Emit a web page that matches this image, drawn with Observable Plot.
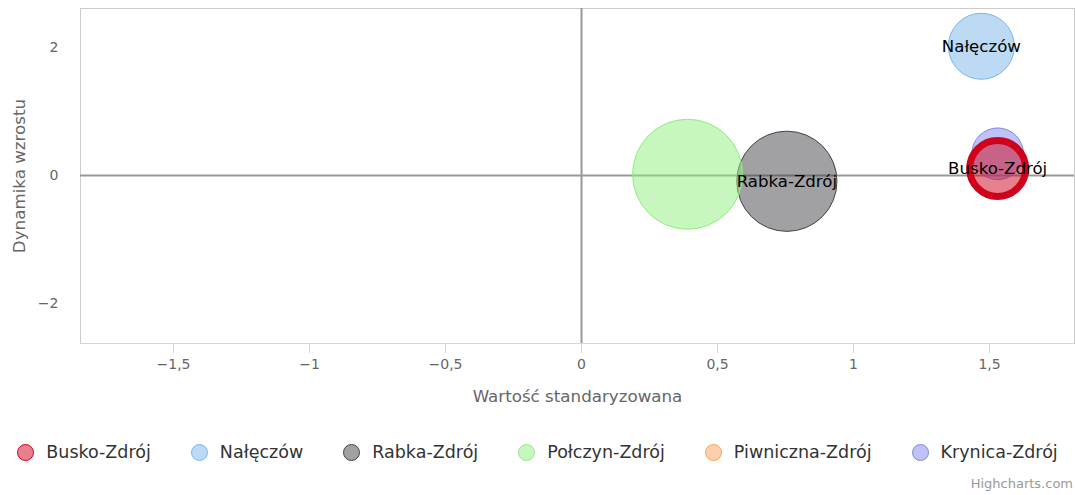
<!DOCTYPE html>
<html><head><meta charset="utf-8">
<script src="https://cdn.jsdelivr.net/npm/d3@7"></script>
<script src="https://cdn.jsdelivr.net/npm/@observablehq/plot@0.6"></script>
<style>
body{margin:0;background:#fff;font-family:"DejaVu Sans",sans-serif;}
#wrap{position:relative;width:1075px;height:495px;overflow:hidden;background:#fff;}
#chart svg{display:block;}
#legend{position:absolute;top:440px;left:0;width:1075px;display:flex;justify-content:center;gap:40px;font-size:17.5px;color:#333;line-height:24px;}
.item{display:flex;align-items:center;white-space:nowrap;}
.sw{width:17px;height:17px;border-radius:50%;box-sizing:border-box;border:1.5px solid;margin-right:12px;}
#credit{position:absolute;right:2px;top:476px;font-size:13px;color:#999;white-space:nowrap;}
</style></head><body>
<div id="wrap"><div id="chart"></div><div id="legend"></div><div id="credit">Highcharts.com</div></div>
<script>
// ---- data ----
const names   = ["Busko-Zdrój","Nałęczów","Rabka-Zdrój","Połczyn-Zdrój","Piwniczna-Zdrój","Krynica-Zdrój"];
const colors  = ["#d0021b","#7cb5ec","#434348","#90ed7d","#f7a35c","#8085e9"];
const xValues = [1.53, 1.47, 0.755, 0.39, null, 1.53];   // Wartość standaryzowana
const yValues = [0.11, 2.02, -0.09, 0.02, null, 0.34];   // Dynamika wzrostu
const zValues = [26, 36, 83, 100, null, 22];             // bubble size
const labelled = ["Busko-Zdrój","Nałęczów","Rabka-Zdrój"];
const highlighted = "Busko-Zdrój";
const xTicks = [-1.5,-1,-0.5,0,0.5,1,1.5];
const yTicks = [-2,0,2];
const xDomain = [-1.842, 1.8125];
const yDomain = [-2.625, 2.61];
const xTitle = "Wartość standaryzowana";
const yTitle = "Dynamika wzrostu";

const rows = names.map((n,i)=>({name:n, x:xValues[i], y:yValues[i], z:zValues[i]}))
  .filter(d=>d.x!=null);
const normal = rows.filter(d=>d.name!==highlighted);
const hi = rows.filter(d=>d.name===highlighted);
const fmt = d => String(d).replace("-", "\u2212").replace(".", ",");

const chart = Plot.plot({
  width:1075, height:420,
  marginLeft:80, marginRight:1, marginTop:8, marginBottom:77,
  style:{fontFamily:"DejaVu Sans, sans-serif", background:"transparent"},
  x:{domain:xDomain},
  y:{domain:yDomain},
  r:{type:"sqrt", domain:[0,100], range:[0,55]},
  color:{domain:names, range:colors},
  marks:[
    Plot.frame({stroke:"#cccccc"}),
    Plot.ruleY([yDomain[0]], {stroke:"#ccd6eb", strokeWidth:1}),
    Plot.ruleX([0], {stroke:"#999", strokeWidth:2}),
    Plot.ruleY([0], {stroke:"#999", strokeWidth:2}),
    Plot.axisX({ticks:xTicks, tickFormat:fmt, tickSize:10, tickPadding:6, stroke:"#ccd6eb", fill:"#666", fontSize:14, label:null}),
    Plot.axisY({ticks:yTicks, tickFormat:fmt, tickSize:0, tickPadding:22, fill:"#666", fontSize:14, label:null}),
    Plot.text([xTitle], {frameAnchor:"bottom", dy:58, fill:"#666", fontSize:16.7}),
    Plot.text([yTitle], {frameAnchor:"left", dx:-61, rotate:-90, textAnchor:"middle", fill:"#666", fontSize:16.7}),
    Plot.dot(normal, {x:"x", y:"y", r:"z", fill:"name", fillOpacity:0.5, stroke:"name", strokeWidth:1, sort:null}),
    Plot.dot(hi, {x:"x", y:"y", r:"z", fill:"name", fillOpacity:0.5, stroke:"name", strokeWidth:7, sort:null}),
    Plot.text(rows.filter(d=>labelled.includes(d.name)), {x:"x", y:"y", text:"name", fill:"#000", fontSize:16.6})
  ]
});
document.getElementById("chart").append(chart);

const leg = document.getElementById("legend");
names.forEach((n,i)=>{
  const it = document.createElement("div"); it.className="item";
  const sw = document.createElement("span"); sw.className="sw";
  const c = d3.color(colors[i]); sw.style.borderColor = colors[i];
  c.opacity = 0.5; sw.style.background = c.formatRgb();
  const t = document.createElement("span"); t.textContent = n;
  it.append(sw, t); leg.append(it);
});
</script>
</body></html>
